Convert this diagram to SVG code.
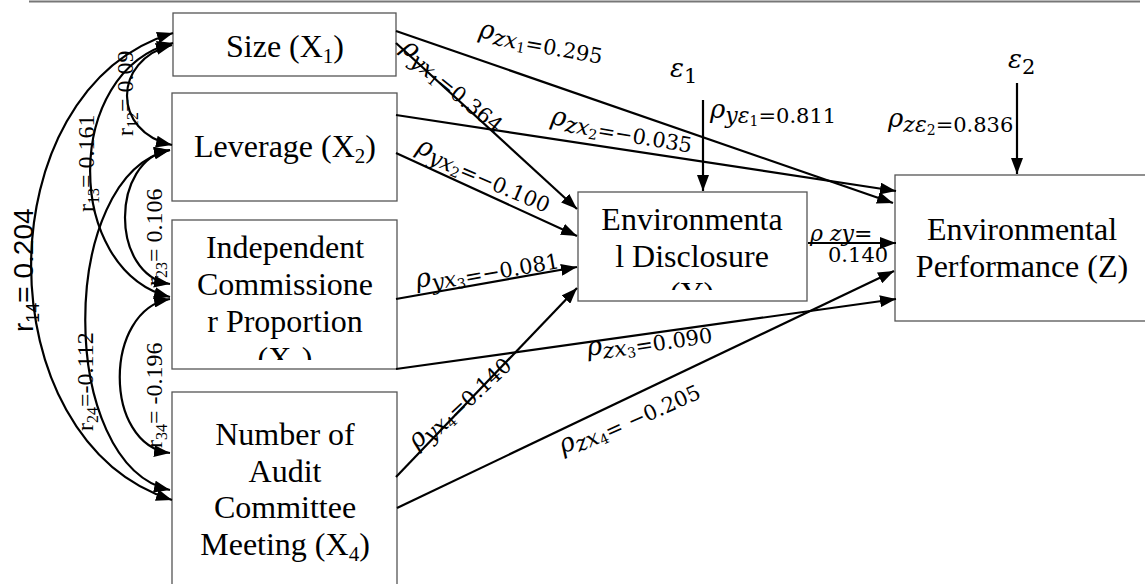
<svg xmlns="http://www.w3.org/2000/svg" width="1145" height="584" viewBox="0 0 1145 584">
<style>
.box{fill:#fff;stroke:#555;stroke-width:1.3}
.nt{font-family:"Liberation Serif","Times New Roman",serif;font-size:32px;fill:#000;text-anchor:middle}
.nsub{font-size:21px}
.ln{fill:none;stroke:#000;stroke-width:2.2}
.m{font-family:"DejaVu Serif",serif;fill:#000}
.rho{font-style:italic;font-size:26px}
.it{font-style:italic;font-size:22px}
.num{font-size:21px;font-style:normal}
.ss{font-size:14px;font-style:normal}
.c{font-family:"Liberation Serif","Times New Roman",serif;font-size:24px;fill:#000}
.cs{font-size:16px}
.c14{font-family:"Liberation Sans",Arial,sans-serif;font-size:28px;fill:#000}
.cs14{font-size:18px}
</style>
<defs>
<marker id="ah" viewBox="0 0 16 12" refX="16" refY="6" markerWidth="16" markerHeight="12" markerUnits="userSpaceOnUse" orient="auto-start-reverse">
<path d="M0,0 L16,6 L0,12 z" fill="#000"/>
</marker>
<clipPath id="clipX3"><rect x="172" y="220" width="225" height="140"/></clipPath>
<clipPath id="clipY"><rect x="578" y="192" width="229" height="98"/></clipPath>
</defs>
<line x1="29" y1="1.5" x2="1140" y2="1.5" stroke="#777" stroke-width="2"/>
<g id="node-x1">
<rect class="box" x="173" y="13" width="223" height="63"/>
<text class="nt" x="285" y="57">Size (X<tspan class="nsub" dy="6">1</tspan><tspan dy="-6">)</tspan></text>
</g>
<g id="node-x2">
<rect class="box" x="172" y="93" width="225" height="108"/>
<text class="nt" x="285" y="157">Leverage (X<tspan class="nsub" dy="6">2</tspan><tspan dy="-6">)</tspan></text>
</g>
<g id="node-x3">
<rect class="box" x="172" y="220" width="225" height="149"/>
<g clip-path="url(#clipX3)">
<text class="nt" x="285" y="258">Independent</text>
<text class="nt" x="285" y="295">Commissione</text>
<text class="nt" x="285" y="332">r Proportion</text>
<text class="nt" x="285" y="369">(X<tspan class="nsub" dy="6">3</tspan><tspan dy="-6">)</tspan></text>
</g>
</g>
<g id="node-x4">
<rect class="box" x="172" y="392" width="225" height="200"/>
<text class="nt" x="285" y="445">Number of</text>
<text class="nt" x="285" y="482">Audit</text>
<text class="nt" x="285" y="518">Committee</text>
<text class="nt" x="285" y="555">Meeting (X<tspan class="nsub" dy="6">4</tspan><tspan dy="-6">)</tspan></text>
</g>
<g id="node-y">
<rect class="box" x="578" y="192" width="229" height="109"/>
<g clip-path="url(#clipY)">
<text class="nt" x="692" y="230">Environmenta</text>
<text class="nt" x="692" y="267">l Disclosure</text>
<text class="nt" x="692" y="304">(Y)</text>
</g>
</g>
<g id="node-z">
<rect class="box" x="895" y="175" width="260" height="146"/>
<text class="nt" x="1022" y="240">Environmental</text>
<text class="nt" x="1022" y="277">Performance (Z)</text>
</g>
<g id="connectors">
<path class="ln" marker-end="url(#ah)" d="M396,31 L893,203"/>
<path class="ln" marker-end="url(#ah)" d="M396,43 L577,209"/>
<path class="ln" marker-end="url(#ah)" d="M396,115 L896,191"/>
<path class="ln" marker-end="url(#ah)" d="M396,153 L577,236"/>
<path class="ln" marker-end="url(#ah)" d="M396,299 L577,267"/>
<path class="ln" marker-end="url(#ah)" d="M396,369 L896,299"/>
<path class="ln" marker-end="url(#ah)" d="M396,477 L577,288"/>
<path class="ln" marker-end="url(#ah)" d="M397,508 L894,271"/>
<path class="ln" marker-end="url(#ah)" d="M808,243 L896,243"/>
<path class="ln" marker-end="url(#ah)" d="M703,100 L703,191"/>
<path class="ln" marker-end="url(#ah)" d="M1017,83 L1017,174"/>
<path class="ln" marker-start="url(#ah)" marker-end="url(#ah)" d="M173,33 C-16,90 -16,440 172,500"/>
<path class="ln" marker-start="url(#ah)" marker-end="url(#ah)" d="M173,43 C63,70 63,270 170,297"/>
<path class="ln" marker-start="url(#ah)" marker-end="url(#ah)" d="M172,45 C112,60 112,132 172,145"/>
<path class="ln" marker-start="url(#ah)" marker-end="url(#ah)" d="M170,150 C110,160 110,275 170,284"/>
<path class="ln" marker-start="url(#ah)" marker-end="url(#ah)" d="M170,150 C57,175 57,465 170,490"/>
<path class="ln" marker-start="url(#ah)" marker-end="url(#ah)" d="M170,299 C103,310 103,445 170,453"/>
<g id="labels">
<text class="m" transform="translate(478,37) rotate(10)"><tspan class="rho">ρ</tspan><tspan class="it" dy="5">zx</tspan><tspan class="ss" dy="3">1</tspan><tspan class="num" dy="-3">=0.295</tspan></text>
<text class="m" transform="translate(400,50) rotate(39)"><tspan class="rho">ρ</tspan><tspan class="it" dy="5">yx</tspan><tspan class="ss" dy="3">1</tspan><tspan class="num" dy="-3">=0.364</tspan></text>
<text class="m" transform="translate(550,124) rotate(9.5)"><tspan class="rho">ρ</tspan><tspan class="it" dy="5">zx</tspan><tspan class="ss" dy="3">2</tspan><tspan class="num" dy="-3">=−0.035</tspan></text>
<text class="m" transform="translate(415,152) rotate(23)"><tspan class="rho">ρ</tspan><tspan class="it" dy="5">yx</tspan><tspan class="ss" dy="3">2</tspan><tspan class="num" dy="-3">=−0.100</tspan></text>
<text class="m" transform="translate(417,288) rotate(-10)"><tspan class="rho">ρ</tspan><tspan class="it" dy="5">yx</tspan><tspan class="ss" dy="3">3</tspan><tspan class="num" dy="-3">=−0.081</tspan></text>
<text class="m" transform="translate(417,450) rotate(-43)"><tspan class="rho">ρ</tspan><tspan class="it" dy="5">yx</tspan><tspan class="ss" dy="3">4</tspan><tspan class="num" dy="-3">=0.140</tspan></text>
<text class="m" transform="translate(588,356) rotate(-8.5)"><tspan class="rho">ρ</tspan><tspan class="it" dy="5">zx</tspan><tspan class="ss" dy="3">3</tspan><tspan class="num" dy="-3">=0.090</tspan></text>
<text class="m" transform="translate(563,454) rotate(-24)"><tspan class="rho">ρ</tspan><tspan class="it" dy="5">zx</tspan><tspan class="ss" dy="3">4</tspan><tspan class="num" dy="-3">= −0.205</tspan></text>
<text class="m" x="710" y="118"><tspan class="rho">ρ</tspan><tspan class="it" dy="5">yε</tspan><tspan class="ss" dy="3">1</tspan><tspan class="num" dy="-3">=0.811</tspan></text>
<text class="m" x="888" y="127"><tspan class="rho">ρ</tspan><tspan class="it" dy="5">zε</tspan><tspan class="ss" dy="3">2</tspan><tspan class="num" dy="-3">=0.836</tspan></text>
<text class="m" x="670" y="77"><tspan class="rho">ε</tspan><tspan class="num" dy="6">1</tspan></text>
<text class="m" x="1008" y="68"><tspan class="rho">ε</tspan><tspan class="num" dy="6">2</tspan></text>
<text class="m" x="810" y="241"><tspan class="it" font-size="21">ρ zy=</tspan></text>
<text class="m" x="828" y="262"><tspan class="num">0.140</tspan></text>
<text class="c" transform="translate(133,136) rotate(-90)">r<tspan class="cs" dy="5">12</tspan><tspan dy="-5">= 0.09</tspan></text>
<text class="c" transform="translate(94,212) rotate(-90)">r<tspan class="cs" dy="5">13</tspan><tspan dy="-5">= 0.161</tspan></text>
<text class="c14" transform="translate(33,332) rotate(-90)">r<tspan class="cs14" dy="6">14</tspan><tspan dy="-6">= 0.204</tspan></text>
<text class="c" transform="translate(162,286) rotate(-90)">r<tspan class="cs" dy="5">23</tspan><tspan dy="-5">= 0.106</tspan></text>
<text class="c" transform="translate(93,431) rotate(-90)">r<tspan class="cs" dy="5">24</tspan><tspan dy="-5">=-0.112</tspan></text>
<text class="c" transform="translate(162,448) rotate(-90)">r<tspan class="cs" dy="5">34</tspan><tspan dy="-5">= -0.196</tspan></text>
</g>
</g>
</svg>
